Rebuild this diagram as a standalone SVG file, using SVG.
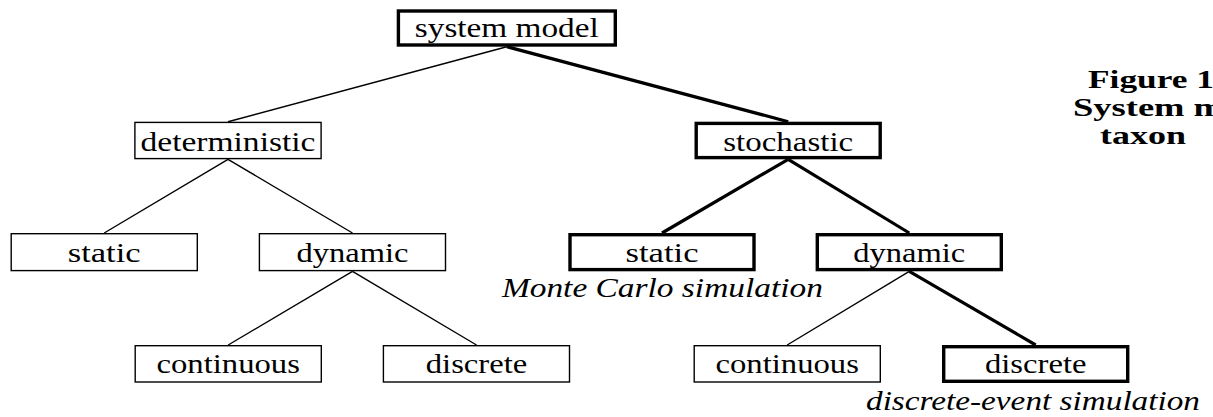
<svg xmlns="http://www.w3.org/2000/svg" width="1213" height="417" viewBox="0 0 1213 417">
  <style>
    .box { fill: #ffffff; stroke: #000000; stroke-width: 1.4; }
    .box.bold { stroke-width: 3.4; }
    .edge { stroke: #000000; stroke-width: 1.4; fill: none; }
    .edge.bold { stroke-width: 3.2; }
    .lbl { font-family: "Liberation Serif", "DejaVu Serif", serif; font-size: 27px; fill: #000000; text-anchor: middle; }
    .note { font-family: "Liberation Serif", "DejaVu Serif", serif; font-size: 27px; font-style: italic; fill: #000000; text-anchor: middle; }
    .cap { font-family: "Liberation Serif", "DejaVu Serif", serif; font-size: 26px; font-weight: bold; fill: #000000; }
  </style>
  <rect width="1213" height="417" fill="#ffffff"/>

  <!-- tree edges: parent bottom centre to child top centre -->
  <g id="edges">
    <line class="edge" x1="506.8" y1="46.7" x2="228" y2="121.7"/>
    <line class="edge bold" x1="506.8" y1="46.7" x2="788.2" y2="121.7"/>
    <line class="edge" x1="228" y1="159.3" x2="104.2" y2="233"/>
    <line class="edge" x1="228" y1="159.3" x2="352.5" y2="233"/>
    <line class="edge bold" x1="788.2" y1="159.3" x2="662" y2="233"/>
    <line class="edge bold" x1="788.2" y1="159.3" x2="909.3" y2="233"/>
    <line class="edge" x1="352.5" y1="271.3" x2="228.2" y2="345"/>
    <line class="edge" x1="352.5" y1="271.3" x2="476.5" y2="345"/>
    <line class="edge" x1="909.3" y1="271.3" x2="787.2" y2="345"/>
    <line class="edge bold" x1="909.3" y1="271.3" x2="1035.7" y2="345"/>
  </g>

  <!-- root -->
  <g id="system-model">
    <rect class="box bold" x="398.4" y="11" width="216.9" height="34"/>
    <text class="lbl" x="506.8" y="37" textLength="184" lengthAdjust="spacingAndGlyphs">system model</text>
  </g>

  <!-- level 1 -->
  <g id="deterministic">
    <rect class="box" x="134.9" y="122.4" width="186.2" height="36.2"/>
    <text class="lbl" x="228" y="150.5" textLength="175" lengthAdjust="spacingAndGlyphs">deterministic</text>
  </g>
  <g id="stochastic">
    <rect class="box bold" x="696.2" y="123.4" width="184" height="34.2"/>
    <text class="lbl" x="788.2" y="150.5" textLength="130" lengthAdjust="spacingAndGlyphs">stochastic</text>
  </g>

  <!-- level 2 -->
  <g id="det-static">
    <rect class="box" x="11.2" y="233.7" width="186.1" height="36.9"/>
    <text class="lbl" x="104.2" y="262" textLength="73" lengthAdjust="spacingAndGlyphs">static</text>
  </g>
  <g id="det-dynamic">
    <rect class="box" x="259.4" y="233.7" width="186.1" height="36.9"/>
    <text class="lbl" x="352.5" y="262" textLength="112" lengthAdjust="spacingAndGlyphs">dynamic</text>
  </g>
  <g id="sto-static">
    <rect class="box bold" x="570" y="234.7" width="184" height="34.9"/>
    <text class="lbl" x="662" y="262" textLength="73" lengthAdjust="spacingAndGlyphs">static</text>
    <text class="note" x="662.4" y="297" textLength="321" lengthAdjust="spacingAndGlyphs">Monte Carlo simulation</text>
  </g>
  <g id="sto-dynamic">
    <rect class="box bold" x="817.3" y="234.7" width="184" height="34.9"/>
    <text class="lbl" x="909.3" y="262" textLength="112" lengthAdjust="spacingAndGlyphs">dynamic</text>
  </g>

  <!-- level 3 -->
  <g id="det-continuous">
    <rect class="box" x="135.2" y="345.7" width="186.1" height="36.3"/>
    <text class="lbl" x="228.2" y="372.5" textLength="143.5" lengthAdjust="spacingAndGlyphs">continuous</text>
  </g>
  <g id="det-discrete">
    <rect class="box" x="383.4" y="345.7" width="186.1" height="36.3"/>
    <text class="lbl" x="476.5" y="372.5" textLength="101.5" lengthAdjust="spacingAndGlyphs">discrete</text>
  </g>
  <g id="sto-continuous">
    <rect class="box" x="694.2" y="345.7" width="186.1" height="36.3"/>
    <text class="lbl" x="787.2" y="372.5" textLength="143.5" lengthAdjust="spacingAndGlyphs">continuous</text>
  </g>
  <g id="sto-discrete">
    <rect class="box bold" x="943.7" y="346.7" width="184" height="34.6"/>
    <text class="lbl" x="1035.7" y="372.5" textLength="101.5" lengthAdjust="spacingAndGlyphs">discrete</text>
    <text class="note" x="1033" y="409.5" textLength="334" lengthAdjust="spacingAndGlyphs">discrete-event simulation</text>
  </g>

  <!-- caption, running past the right edge -->
  <g id="caption">
    <text class="cap" x="1088" y="88" textLength="126" lengthAdjust="spacingAndGlyphs">Figure 1</text>
    <text class="cap" x="1073" y="116" textLength="151" lengthAdjust="spacingAndGlyphs">System m</text>
    <text class="cap" x="1100" y="144" textLength="86" lengthAdjust="spacingAndGlyphs">taxon</text>
  </g>
</svg>
